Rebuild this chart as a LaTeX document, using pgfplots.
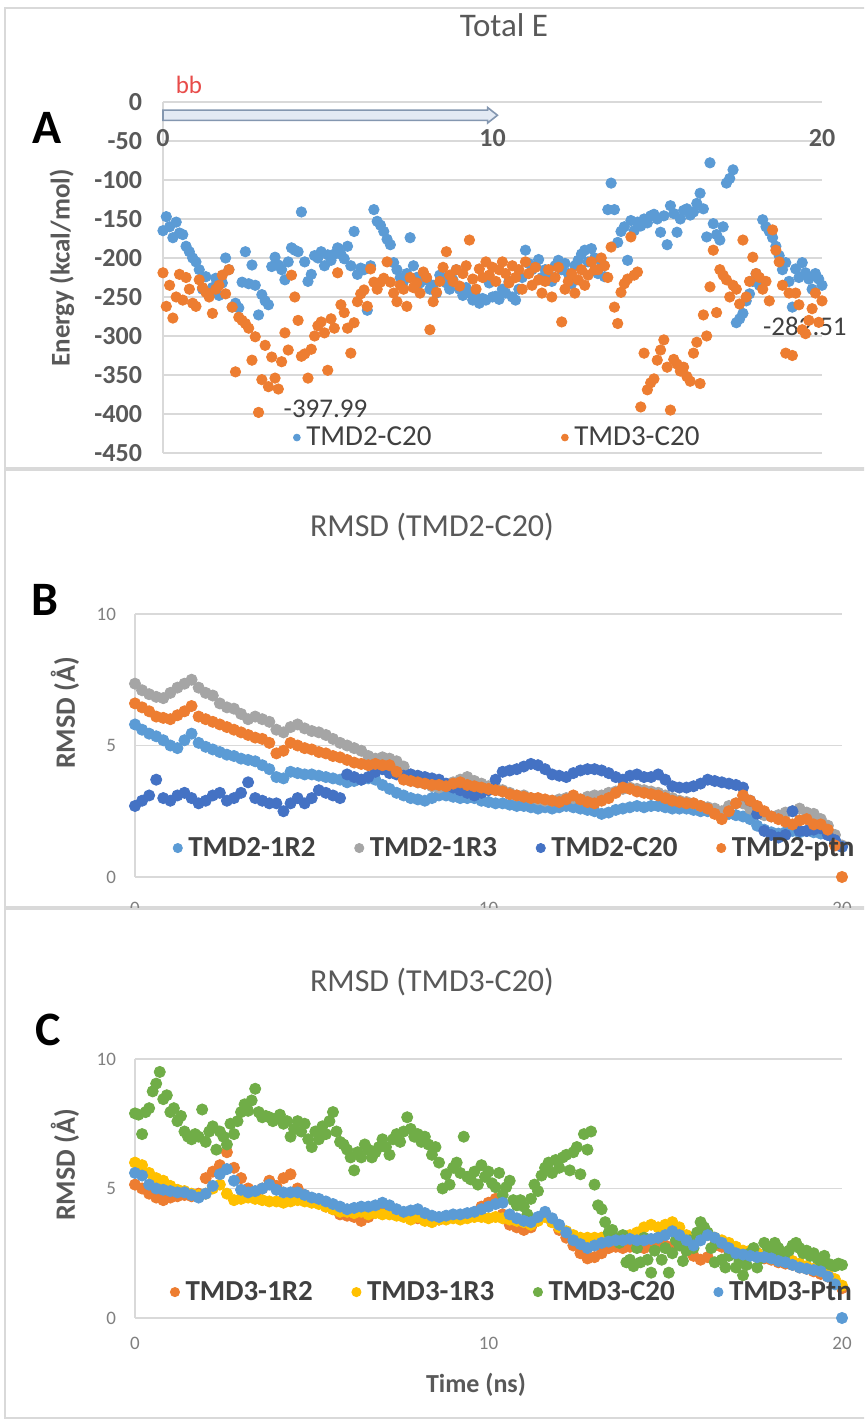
\documentclass[border=0pt]{standalone}
\usepackage{pgfplots}
\usepackage{pgfplotstable}
\pgfplotsset{compat=1.18}
\usepackage{fontspec}
\setmainfont{Carlito}
\definecolor{xlblue}{HTML}{5B9BD5}
\definecolor{xlorange}{HTML}{ED7D31}
\definecolor{xlgray}{HTML}{A5A5A5}
\definecolor{xlyellow}{HTML}{FFC000}
\definecolor{xldblue}{HTML}{4472C4}
\definecolor{xlgreen}{HTML}{70AD47}
\definecolor{gridgray}{HTML}{D9D9D9}
\definecolor{txtgray}{HTML}{595959}
\definecolor{lblgray}{HTML}{808080}
\definecolor{darktext}{HTML}{404040}
\definecolor{bbred}{HTML}{E84C4A}
\definecolor{arrowedge}{HTML}{8497B0}
\definecolor{arrowfill}{HTML}{E3EAF4}
\newcommand{\fs}[1]{\fontsize{#1}{#1}\selectfont}

% total energy, t in ns
\pgfplotstableread{
t e2 e3
0.0 -165 -219
0.1 -147 -262
0.2 -160 -235
0.3 -174 -277
0.4 -154 -250
0.5 -168 -221
0.6 -170 -254
0.7 -185 -225
0.8 -192 -240
0.9 -200 -258
1.0 -205 -262
1.1 -215 -228
1.2 -240 -238
1.3 -224 -244
1.4 -245 -250
1.5 -238 -271
1.6 -226 -240
1.7 -248 -235
1.8 -232 -222
1.9 -200 -246
2.0 -215 -215
2.1 -263 -263
2.2 -258 -346
2.3 -264 -276
2.4 -231 -280
2.5 -192 -284
2.6 -233 -290
2.7 -209 -331
2.8 -235 -301
2.9 -273 -397.99
3.0 -247 -356
3.1 -255 -312
3.2 -260 -365
3.3 -211 -327
3.4 -199 -354
3.5 -209 -368
3.6 -215 -333
3.7 -228 -296
3.8 -205 -318
3.9 -187 -222
4.0 -190 -250
4.1 -192 -280
4.2 -141 -326
4.3 -205 -323
4.4 -230 -354
4.5 -221 -317
4.6 -197 -300
4.7 -200 -287
4.8 -192 -282
4.9 -210 -296
5.0 -196 -344
5.1 -203 -278
5.2 -195 -290
5.3 -187 -219
5.4 -195 -260
5.5 -201 -270
5.6 -185 -290
5.7 -210 -322
5.8 -166 -283
5.9 -221 -256
6.0 -213 -246
6.1 -215 -241
6.2 -267 -262
6.3 -210 -214
6.4 -138 -231
6.5 -153 -240
6.6 -158 -231
6.7 -166 -226
6.8 -176 -205
6.9 -183 -231
7.0 -206 -245
7.1 -215 -256
7.2 -225 -235
7.3 -230 -240
7.4 -220 -262
7.5 -174 -225
7.6 -210 -238
7.7 -225 -232
7.8 -232 -245
7.9 -220 -218
8.0 -228 -225
8.1 -240 -292
8.2 -235 -256
8.3 -245 -244
8.4 -222 -230
8.5 -225 -212
8.6 -232 -192
8.7 -240 -222
8.8 -228 -230
8.9 -215 -215
9.0 -240 -236
9.1 -248 -220
9.2 -238 -210
9.3 -245 -177
9.4 -254 -227
9.5 -250 -240
9.6 -258 -214
9.7 -252 -225
9.8 -254 -205
9.9 -232 -222
10.0 -250 -212
10.1 -249 -230
10.2 -253 -215
10.3 -240 -205
10.4 -245 -220
10.5 -230 -232
10.6 -250 -210
10.7 -254 -225
10.8 -240 -215
10.9 -225 -240
11.0 -190 -205
11.1 -207 -220
11.2 -215 -235
11.3 -210 -212
11.4 -202 -228
11.5 -225 -245
11.6 -215 -230
11.7 -220 -215
11.8 -230 -250
11.9 -210 -225
12.0 -203 -212
12.1 -215 -282
12.2 -207 -240
12.3 -220 -230
12.4 -233 -220
12.5 -210 -245
12.6 -203 -228
12.7 -195 -215
12.8 -190 -235
12.9 -205 -222
13.0 -188 -205
13.1 -200 -215
13.2 -220 -215
13.3 -205 -200
13.4 -224 -210
13.5 -138 -225
13.6 -104 -186
13.7 -138 -263
13.8 -180 -284
13.9 -166 -244
14.0 -160 -233
14.1 -203 -227
14.2 -152 -173
14.3 -165 -222
14.4 -154 -218
14.5 -159 -391
14.6 -150 -322
14.7 -155 -369
14.8 -146 -360
14.9 -144 -355
15.0 -150 -331
15.1 -167 -318
15.2 -146 -305
15.3 -183 -340
15.4 -133 -395
15.5 -143 -330
15.6 -167 -336
15.7 -150 -345
15.8 -139 -340
15.9 -137 -352
16.0 -145 -358
16.1 -141 -322
16.2 -130 -308
16.3 -117 -361
16.4 -137 -273
16.5 -173 -300
16.6 -78 -237
16.7 -156 -190
16.8 -170 -270
16.9 -177 -215
17.0 -160 -222
17.1 -104 -228
17.2 -98 -250
17.3 -87 -235
17.4 -283 -240
17.5 -278 -259
17.6 -271 -177
17.7 -255 -250
17.8 -246 -230
17.9 -230 -199
18.0 -220 -220
18.1 -235 -225
18.2 -151 -240
18.3 -160 -230
18.4 -166 -255
18.5 -174 -164
18.6 -185 -190
18.7 -197 -205
18.8 -215 -235
18.9 -206 -322
19.0 -230 -245
19.1 -263 -325
19.2 -214 -245
19.3 -225 -260
19.4 -206 -292
19.5 -219 -297
19.6 -227 -280
19.7 -240 -265
19.8 -220 -245
19.9 -227 -282.51
20.0 -235 -255
}\tabA

% RMSD, TMD2 runs
\pgfplotstableread{
t r2 r3 c20 ptn
0.0 5.8 7.35 2.7 6.6
0.2 5.6 7.1 2.9 6.45
0.4 5.45 6.95 3.1 6.3
0.6 5.35 6.85 3.7 6.1
0.8 5.2 6.8 3.0 6.05
1.0 5.0 7.0 2.9 6.0
1.2 4.9 7.2 3.1 6.15
1.4 5.2 7.35 3.2 6.3
1.6 5.45 7.5 3.0 6.5
1.8 5.1 7.2 2.8 6.1
2.0 4.95 7.0 2.9 6.0
2.2 4.85 6.9 3.1 5.9
2.4 4.75 6.6 3.2 5.8
2.6 4.65 6.45 2.9 5.7
2.8 4.6 6.4 3.0 5.6
3.0 4.5 6.2 3.2 5.5
3.2 4.45 6.0 3.6 5.4
3.4 4.4 6.1 3.0 5.3
3.6 4.25 6.0 2.9 5.25
3.8 4.1 5.9 2.8 5.1
4.0 3.8 5.6 2.8 4.7
4.2 3.75 5.5 2.5 4.8
4.4 4.0 5.7 2.8 5.1
4.6 3.95 5.8 3.0 5.0
4.8 3.9 5.65 2.8 4.9
5.0 3.9 5.55 3.0 4.85
5.2 3.85 5.5 3.3 4.75
5.4 3.8 5.4 3.2 4.7
5.6 3.75 5.25 3.1 4.6
5.8 3.7 5.1 3.0 4.55
6.0 3.6 5.0 3.9 4.45
6.2 3.65 4.9 3.8 4.35
6.4 3.7 4.8 3.7 4.3
6.6 3.75 4.6 3.8 4.25
6.8 3.7 4.5 4.0 4.3
7.0 3.5 4.55 4.1 4.25
7.2 3.35 4.5 3.95 4.25
7.4 3.2 4.4 3.9 4.0
7.6 3.1 4.2 3.85 3.7
7.8 3.0 3.9 3.9 3.65
8.0 2.95 3.6 3.85 3.6
8.2 2.9 3.55 3.8 3.55
8.4 3.0 3.45 3.75 3.5
8.6 3.1 3.4 3.7 3.5
8.8 3.1 3.5 3.55 3.45
9.0 3.05 3.6 3.4 3.55
9.2 3.0 3.7 3.3 3.6
9.4 3.0 3.8 3.2 3.5
9.6 3.0 3.65 3.1 3.45
9.8 2.9 3.55 3.2 3.4
10.0 2.85 3.45 3.3 3.35
10.2 2.8 3.4 3.7 3.3
10.4 2.8 3.3 4.0 3.25
10.6 2.75 3.2 4.05 3.15
10.8 2.7 3.1 4.1 3.1
11.0 2.7 3.1 4.2 3.05
11.2 2.65 3.0 4.3 3.0
11.4 2.6 2.95 4.25 3.0
11.6 2.65 2.9 4.1 2.95
11.8 2.6 2.9 3.9 2.9
12.0 2.65 2.95 3.85 2.85
12.2 2.7 3.0 3.8 2.95
12.4 2.65 3.0 3.95 3.1
12.6 2.6 2.95 4.05 2.95
12.8 2.55 3.05 4.1 2.85
13.0 2.5 3.1 4.1 2.8
13.2 2.4 3.1 4.05 2.9
13.4 2.45 3.2 3.95 3.0
13.6 2.55 3.25 3.8 3.2
13.8 2.6 3.35 3.7 3.4
14.0 2.65 3.4 3.85 3.35
14.2 2.7 3.35 3.9 3.25
14.4 2.65 3.3 3.8 3.2
14.6 2.7 3.25 3.8 3.15
14.8 2.7 3.2 3.9 3.1
15.0 2.65 3.1 3.7 3.0
15.2 2.6 3.0 3.45 2.9
15.4 2.6 2.9 3.4 2.85
15.6 2.6 2.85 3.4 2.8
15.8 2.55 2.8 3.45 2.8
16.0 2.5 2.7 3.55 2.7
16.2 2.5 2.65 3.7 2.6
16.4 2.45 2.6 3.65 2.4
16.6 2.45 2.5 3.6 2.2
16.8 2.4 2.7 3.55 2.5
17.0 2.35 2.8 3.5 2.8
17.2 2.3 2.8 3.4 3.1
17.4 2.2 2.6 2.9 2.9
17.6 1.95 2.45 2.4 2.7
17.8 1.8 2.35 1.75 2.5
18.0 1.7 2.3 1.6 2.3
18.2 1.65 2.35 1.5 2.2
18.4 1.7 2.45 1.6 2.1
18.6 1.75 2.5 2.5 2.0
18.8 1.7 2.6 1.75 2.15
19.0 1.75 2.45 1.75 2.2
19.2 1.7 2.4 1.8 2.0
19.4 1.65 2.2 1.85 2.0
19.6 1.6 1.95 1.6 1.8
19.8 1.4 1.6 1.4 1.2
20.0 1.15 1.2 1.15 0
}\tabB

% RMSD, TMD3 runs
\pgfplotstableread{
t r2 r3 ptn
0.0 5.15 6.0 5.6
0.2 5.0 5.9 5.5
0.4 4.8 5.6 5.15
0.6 4.65 5.4 5.0
0.8 4.55 5.3 4.95
1.0 4.65 5.1 4.9
1.2 4.7 4.95 4.85
1.4 4.75 4.9 4.85
1.6 4.7 4.8 4.75
1.8 4.8 4.75 4.65
2.0 5.4 4.8 4.8
2.2 5.65 5.0 5.1
2.4 5.9 5.15 5.55
2.6 6.4 4.8 5.75
2.8 5.8 4.55 5.3
3.0 5.4 4.6 4.95
3.2 5.0 4.65 4.85
3.4 4.8 4.6 4.9
3.6 5.0 4.55 5.0
3.8 5.3 4.5 5.15
4.0 5.1 4.5 4.95
4.2 5.4 4.45 4.85
4.4 5.55 4.5 4.85
4.6 5.0 4.55 4.85
4.8 4.75 4.5 4.75
5.0 4.6 4.45 4.65
5.2 4.45 4.4 4.6
5.4 4.3 4.3 4.5
5.6 4.2 4.2 4.4
5.8 4.0 4.1 4.3
6.0 3.95 4.1 4.2
6.2 3.9 4.05 4.25
6.4 3.75 4.1 4.3
6.6 3.9 4.0 4.3
6.8 4.2 4.05 4.35
7.0 4.4 4.0 4.45
7.2 4.3 4.0 4.35
7.4 4.1 3.95 4.2
7.6 3.95 3.9 4.1
7.8 3.9 3.8 4.15
8.0 3.85 3.9 4.2
8.2 3.8 3.75 4.05
8.4 3.75 3.7 3.95
8.6 3.8 3.8 3.9
8.8 3.85 3.8 3.95
9.0 3.9 3.85 4.0
9.2 3.95 3.8 4.0
9.4 4.0 3.85 4.05
9.6 4.05 3.9 4.1
9.8 4.3 3.9 4.2
10.0 4.45 3.85 4.3
10.2 4.6 3.9 4.4
10.4 4.0 3.85 4.45
10.6 3.6 3.8 4.0
10.8 3.5 3.75 3.85
11.0 3.4 3.7 3.75
11.2 3.5 3.6 3.7
11.4 3.8 3.75 3.9
11.6 4.0 3.9 4.1
11.8 3.7 3.7 3.85
12.0 3.4 3.5 3.6
12.2 3.1 3.35 3.3
12.4 2.8 3.2 3.0
12.6 2.5 3.1 2.85
12.8 2.3 3.1 2.7
13.0 2.35 3.1 2.8
13.2 2.5 3.1 2.9
13.4 2.7 3.05 2.95
13.6 2.75 3.0 3.0
13.8 2.7 3.1 3.0
14.0 2.75 3.2 3.05
14.2 2.8 3.3 3.0
14.4 2.7 3.5 3.0
14.6 2.8 3.6 3.05
14.8 2.85 3.5 3.1
15.0 2.8 3.6 3.2
15.2 2.75 3.7 3.35
15.4 2.85 3.5 3.2
15.6 2.6 3.2 3.0
15.8 2.4 3.1 2.8
16.0 2.25 3.1 3.0
16.2 2.35 3.2 3.2
16.4 2.8 3.1 3.1
16.6 2.75 3.0 2.9
16.8 2.6 2.9 2.7
17.0 2.5 2.75 2.5
17.2 2.4 2.6 2.45
17.4 2.45 2.6 2.4
17.6 2.5 2.5 2.35
17.8 2.3 2.4 2.35
18.0 2.25 2.3 2.3
18.2 2.15 2.3 2.2
18.4 2.1 2.25 2.15
18.6 2.05 2.2 2.05
18.8 1.95 2.1 1.95
19.0 1.9 2.0 1.9
19.2 1.8 1.9 1.85
19.4 1.7 1.8 1.8
19.6 1.6 1.7 1.6
19.8 1.35 1.5 1.3
20.0 1.15 1.25 0
}\tabC

% TMD3-C20 sampled every 0.1 ns
\pgfplotstableread{
t g
0.0 7.9
0.1 7.85
0.2 7.1
0.3 7.95
0.4 8.1
0.5 8.75
0.6 9.05
0.7 9.5
0.8 8.45
0.9 8.6
1.0 7.95
1.1 8.1
1.2 7.6
1.3 7.8
1.4 7.2
1.5 7.0
1.6 6.9
1.7 7.1
1.8 7.0
1.9 8.05
2.0 6.8
2.1 7.2
2.2 7.4
2.3 6.5
2.4 7.2
2.5 7.0
2.6 6.7
2.7 7.5
2.8 7.1
2.9 7.6
3.0 7.95
3.1 8.25
3.2 8.0
3.3 8.4
3.4 8.85
3.5 7.95
3.6 7.75
3.7 7.8
3.8 7.75
3.9 7.6
4.0 7.7
4.1 7.85
4.2 7.5
4.3 7.6
4.4 7.0
4.5 7.3
4.6 7.6
4.7 7.2
4.8 7.5
4.9 6.9
5.0 6.6
5.1 7.2
5.2 6.9
5.3 7.4
5.4 7.1
5.5 7.6
5.6 7.95
5.7 7.2
5.8 6.8
5.9 6.7
6.0 6.5
6.1 6.2
6.2 5.7
6.3 6.4
6.4 6.2
6.5 6.7
6.6 6.5
6.7 6.2
6.8 6.4
6.9 6.6
7.0 6.9
7.1 6.6
7.2 6.3
7.3 6.9
7.4 7.1
7.5 6.8
7.6 7.2
7.7 7.75
7.8 7.3
7.9 7.0
8.0 7.1
8.1 6.8
8.2 7.0
8.3 6.7
8.4 6.3
8.5 6.6
8.6 6.0
8.7 5.0
8.8 5.55
8.9 5.15
9.0 5.8
9.1 6.0
9.2 5.6
9.3 7.0
9.4 5.45
9.5 5.35
9.6 5.65
9.7 5.15
9.8 5.9
9.9 5.45
10.0 5.65
10.1 5.2
10.2 5.05
10.3 5.6
10.4 4.75
10.5 5.05
10.6 5.3
10.7 4.55
10.8 4.35
10.9 4.55
11.0 4.3
11.1 4.0
11.2 4.6
11.3 5.15
11.4 4.9
11.5 5.5
11.6 5.8
11.7 6.0
11.8 5.6
11.9 6.1
12.0 5.8
12.1 6.2
12.2 6.3
12.3 5.7
12.4 6.4
12.5 6.6
12.6 5.55
12.7 7.1
12.8 6.5
12.9 7.2
13.0 5.15
13.1 4.35
13.2 4.2
13.3 3.7
13.4 3.3
13.5 3.4
13.6 3.1
13.7 2.9
13.8 3.2
13.9 2.15
14.0 2.25
14.1 2.0
14.2 2.7
14.3 2.15
14.4 3.1
14.5 2.25
14.6 1.75
14.7 2.6
14.8 3.1
14.9 2.25
15.0 2.7
15.1 1.75
15.2 2.5
15.3 3.0
15.4 2.8
15.5 2.2
15.6 2.6
15.7 3.0
15.8 2.7
15.9 3.3
16.0 3.7
16.1 3.5
16.2 3.3
16.3 2.7
16.4 2.15
16.5 2.9
16.6 2.25
16.7 1.95
16.8 2.4
16.9 2.5
17.0 1.95
17.1 2.2
17.2 1.65
17.3 2.05
17.4 2.5
17.5 2.7
17.6 1.95
17.7 2.3
17.8 2.9
17.9 2.7
18.0 2.5
18.1 2.9
18.2 2.7
18.3 2.5
18.4 2.5
18.5 2.6
18.6 2.8
18.7 2.9
18.8 2.7
18.9 2.5
19.0 2.6
19.1 2.4
19.2 2.5
19.3 2.3
19.4 2.15
19.5 2.4
19.6 2.1
19.7 2.05
19.8 2.0
19.9 2.1
20.0 2.05
}\tabCg

\pgfplotsset{
  xlpanel/.style={
    scale only axis, anchor=south west, clip=false,
    xmin=0, xmax=20,
    axis line style={draw=gridgray, line width=0.8pt},
    major tick length=0pt,
    ymajorgrids, grid style={draw=gridgray, line width=0.8pt},
    /pgf/number format/assume math mode=true,
    /pgf/number format/1000 sep={},
    legend cell align=left,
  },
  smallkey/.style={legend image code/.code={\draw[##1, mark size=1.7pt] plot coordinates {(0pt,0pt)};}},
  bigkey/.style={legend image code/.code={\draw[##1, mark size=2.3pt] plot coordinates {(0pt,0pt)};}},
  xllegend/.style={draw=none, fill=none, anchor=west,
    inner sep=0pt, outer sep=0pt, font=\fs{14.5},
    nodes={text=darktext, inner sep=1pt},
    /tikz/every odd column/.append style={column sep=2pt},
    /tikz/every even column/.append style={column sep=#1}},
  dots/.style={only marks, mark=*, mark size=2.6pt, color=#1, mark options={draw=#1, fill=#1}},
  bigdots/.style={only marks, mark=*, mark size=2.8pt, color=#1, mark options={draw=#1, fill=#1}},
}

\begin{document}
\begin{tikzpicture}
\useasboundingbox (0,0) rectangle (432pt,712pt);
\clip (0,0) rectangle (432pt,712pt);
\fill[white] (0,0) rectangle (432pt,712pt);
\draw[gridgray, line width=0.8pt] (2.5pt,478pt) rectangle (445pt,708pt);
\draw[gridgray, line width=0.8pt] (2.5pt,258.5pt) rectangle (445pt,477pt);

% panel A
\begin{axis}[xlpanel, smallkey,
  at={(81.5pt,485.5pt)}, width=329.5pt, height=175.5pt,
  ymin=-450, ymax=0,
  axis x line*=top, axis y line*=left,
  xtick={0,10,20}, ytick={-450,-400,...,0},
  ticklabel style={font=\fs{13}\bfseries, text=txtgray},
  xticklabel style={anchor=center, yshift=-18pt},
  yticklabel style={xshift=-7pt},
  legend columns=2,
  legend style={xllegend=64pt, at={(0.198,0.044)}},
]
\filldraw[fill=arrowfill, draw=arrowedge, line width=0.8pt]
  (axis cs:0,-10.5) -- (axis cs:9.85,-10.5) -- (axis cs:9.85,-7) -- (axis cs:10.15,-17)
  -- (axis cs:9.85,-27) -- (axis cs:9.85,-23.5) -- (axis cs:0,-23.5) -- cycle;
\addplot[dots=xlblue] table[x=t, y=e2] {\tabA};
\addlegendentry{TMD2-C20}
\addplot[dots=xlorange] table[x=t, y=e3] {\tabA};
\addlegendentry{TMD3-C20}
\node[anchor=west, font=\fs{13.5}, text=darktext] at (axis cs:3.45,-393) {-397.99};
\node[anchor=west, font=\fs{13.5}, text=darktext] at (axis cs:18.0,-288) {-282.51};
\end{axis}

% panel B
\begin{axis}[xlpanel, bigkey,
  at={(67.5pt,273.5pt)}, width=353.5pt, height=131.5pt,
  ymin=0, ymax=10,
  axis x line*=bottom, axis y line*=left,
  xtick={0,10,20}, ytick={0,5,10},
  ticklabel style={font=\fs{9.5}, text=lblgray},
  xticklabel style={yshift=-9pt},
  yticklabel style={xshift=-6pt},
  legend columns=4,
  legend style={xllegend=18.5pt, at={(0.054,0.11)}, font=\fs{14.5}\bfseries},
]
\addplot[bigdots=xlblue] table[x=t, y=r2] {\tabB};
\addlegendentry{TMD2-1R2}
\addplot[bigdots=xlgray] table[x=t, y=r3] {\tabB};
\addlegendentry{TMD2-1R3}
\addplot[bigdots=xldblue] table[x=t, y=c20] {\tabB};
\addlegendentry{TMD2-C20}
\addplot[bigdots=xlorange] table[x=t, y=ptn] {\tabB};
\addlegendentry{TMD2-ptn}
\end{axis}

% panel C area covers the lower half of B's tick labels
\filldraw[fill=white, draw=gridgray, line width=0.8pt] (2.5pt,3pt) rectangle (445pt,257.5pt);

\begin{axis}[xlpanel, bigkey,
  at={(67.5pt,53pt)}, width=353.5pt, height=129.5pt,
  ymin=0, ymax=10,
  axis x line*=bottom, axis y line*=left,
  xtick={0,10,20}, ytick={0,5,10},
  ticklabel style={font=\fs{9.5}, text=lblgray},
  xticklabel style={yshift=-6pt},
  yticklabel style={xshift=-6pt},
  legend columns=4,
  legend style={xllegend=18.5pt, at={(0.05,0.10)}, font=\fs{14.5}\bfseries},
]
\addplot[bigdots=xlorange] table[x=t, y=r2] {\tabC};
\addlegendentry{TMD3-1R2}
\addplot[bigdots=xlyellow] table[x=t, y=r3] {\tabC};
\addlegendentry{TMD3-1R3}
\addplot[bigdots=xlgreen] table[x=t, y=g] {\tabCg};
\addlegendentry{TMD3-C20}
\addplot[bigdots=xlblue] table[x=t, y=ptn] {\tabC};
\addlegendentry{TMD3-Ptn}
\end{axis}

% titles, panel letters, axis titles
\node[font=\fs{16.5}, text=txtgray] at (252pt,699.5pt) {Total E};
\node[font=\fs{16}, text=txtgray] at (216pt,448.5pt) {RMSD (TMD2-C20)};
\node[font=\fs{16}, text=txtgray] at (216pt,221pt) {RMSD (TMD3-C20)};
\node[font=\fs{12.5}, text=bbred] at (94.5pt,669.5pt) {bb};
\node[font=\fs{24}\bfseries] at (23.5pt,648pt) {A};
\node[font=\fs{24}\bfseries] at (22.5pt,412pt) {B};
\node[font=\fs{24}\bfseries] at (24pt,197pt) {C};
\node[rotate=90, font=\fs{13.5}\bfseries, text=txtgray] at (31pt,578pt) {Energy (kcal/mol)};
\node[rotate=90, font=\fs{14}\bfseries, text=txtgray] at (32.5pt,355.5pt) {RMSD (Å)};
\node[rotate=90, font=\fs{14}\bfseries, text=txtgray] at (32.5pt,129.5pt) {RMSD (Å)};
\node[font=\fs{13}\bfseries, text=txtgray] at (238pt,19.5pt) {Time (ns)};
\end{tikzpicture}
\end{document}
